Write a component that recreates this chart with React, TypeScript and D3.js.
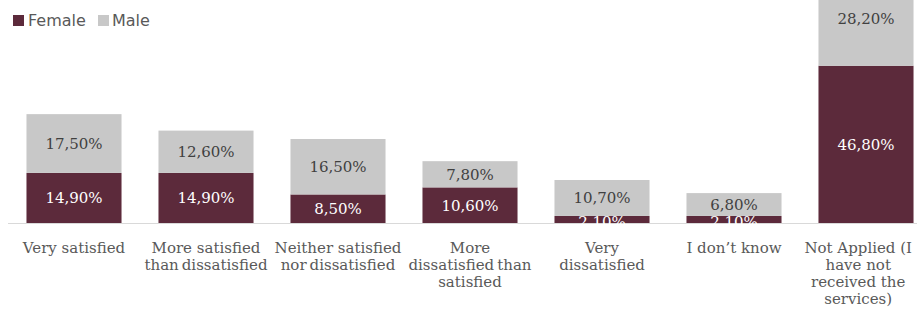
import React from "react";
import * as d3 from "d3";

const categories = [
  "Very satisfied",
  "More satisfied than dissatisfied",
  "Neither satisfied nor dissatisfied",
  "More dissatisfied than satisfied",
  "Very dissatisfied",
  "I don't know",
  "Not Applied (I have not received the services)",
];
const categoryLines = [
  ["Very satisfied"],
  ["More satisfied", "than\u2009dissatisfied"],
  ["Neither satisfied", "nor\u2009dissatisfied"],
  ["More", "dissatisfied\u2009than", "satisfied"],
  ["Very", "dissatisfied"],
  ["I don\u2019t know"],
  ["Not Applied (I", "have not", "received the", "services)"],
];
const female = [14.9, 14.9, 8.5, 10.6, 2.1, 2.1, 46.8];
const male = [17.5, 12.6, 16.5, 7.8, 10.7, 6.8, 28.2];
const seriesNames = ["Female", "Male"];
const seriesColors = ["#5c2a3b", "#c8c8c8"];

const W = 917;
const H = 325;
const fmt = (v: number) => v.toFixed(2).replace(".", ",") + "%";
const serif = "'DejaVu Serif', serif";
const catFont = `15px 'DejaVu Serif'`;

let ctx: CanvasRenderingContext2D | null = null;
function measure(t: string, font: string) {
  if (!ctx) ctx = document.createElement("canvas").getContext("2d");
  if (!ctx) return t.length * 8;
  ctx.font = font;
  return ctx.measureText(t).width;
}

export default function App() {
  const x = d3
    .scaleBand<string>()
    .domain(categories)
    .range([8, 8 + 132 * categories.length])
    .paddingInner(0.28)
    .paddingOuter(0.14);
  const y = d3.scaleLinear().domain([0, 75]).range([223, -29]);
  const labelY = (top: number, bottom: number) =>
    bottom - top < 12 ? top + 11.5 : (top + bottom) / 2 + 5.5;
  return (
    <svg
      width={W}
      height={H}
      style={{ position: "absolute", left: 0, top: 0, display: "block" }}
    >
      <rect width={W} height={H} fill="#fff" />
      {categories.map((c, i) => {
        const x0 = x(c)!;
        const bw = x.bandwidth();
        const f = female[i];
        const m = male[i];
        return (
          <g key={c}>
            <rect x={x0} y={y(f)} width={bw} height={y(0) - y(f)} fill={seriesColors[0]} />
            <rect x={x0} y={y(f + m)} width={bw} height={y(f) - y(f + m)} fill={seriesColors[1]} />
          </g>
        );
      })}
      <line x1={8} x2={W} y1={223.5} y2={223.5} stroke="#d9d9d9" strokeWidth={1} />
      {categories.map((c, i) => {
        const cx = x(c)! + x.bandwidth() / 2;
        const f = female[i];
        const m = male[i];
        return (
          <g key={c + "l"} fontFamily={serif} fontSize={15} textAnchor="middle">
            <text x={cx} y={labelY(y(f), y(0))} fill="#ffffff">
              {fmt(f)}
            </text>
            <text x={cx} y={labelY(y(f + m), y(f))} fill="#404040">
              {fmt(m)}
            </text>
          </g>
        );
      })}
      {categories.map((c, i) => {
        let cx = x(c)! + x.bandwidth() / 2;
        const maxW = d3.max(categoryLines[i], (l) => measure(l, catFont)) || 0;
        cx = Math.min(cx, W - 5 - maxW / 2);
        return (
          <text key={c + "c"} fontFamily={serif} fontSize={15} fill="#595959" textAnchor="middle">
            {categoryLines[i].map((ln, j) => (
              <tspan key={j} x={cx} y={253 + j * 17}>
                {ln}
              </tspan>
            ))}
          </text>
        );
      })}
      <g fontFamily="'DejaVu Sans', sans-serif" fontSize={16} fill="#595959">
        <rect x={13} y={15} width={11} height={11} fill={seriesColors[0]} />
        <text x={28} y={26}>{seriesNames[0]}</text>
        <rect x={98} y={15} width={11} height={11} fill={seriesColors[1]} />
        <text x={112} y={26}>{seriesNames[1]}</text>
      </g>
    </svg>
  );
}
